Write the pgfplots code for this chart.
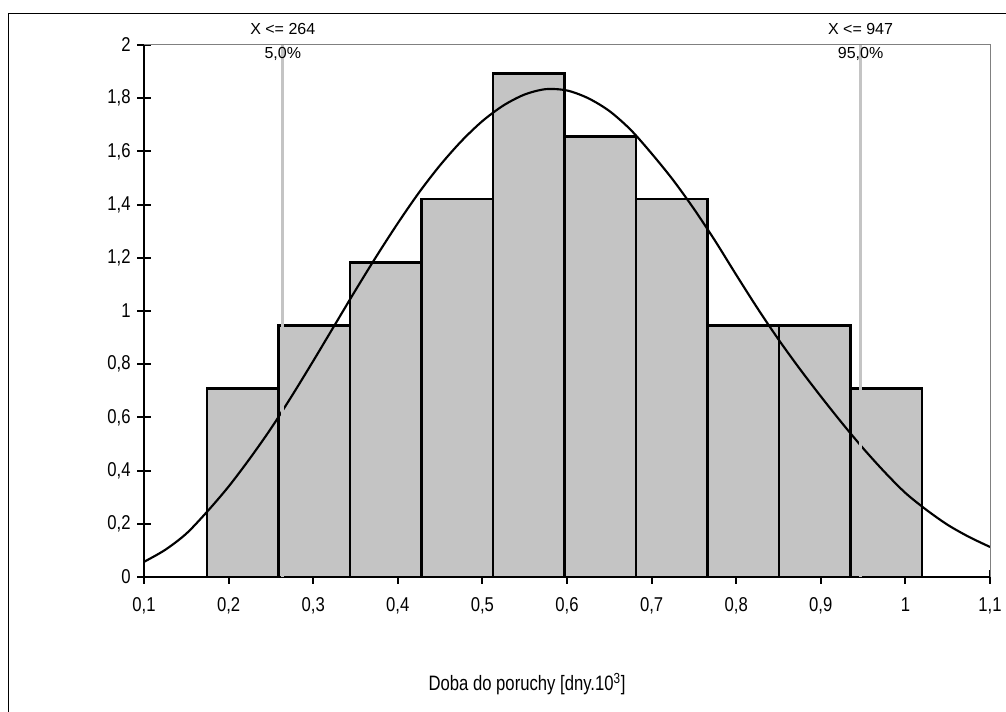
\documentclass[border=0pt]{standalone}
\usepackage{fontspec}
\setmainfont{Liberation Sans}
\usepackage{graphicx}
\usepackage{pgfplots}
\pgfplotsset{compat=1.18}
\definecolor{barfill}{HTML}{C4C4C4}
\definecolor{plotframe}{HTML}{808080}
\definecolor{pctline}{HTML}{C4C4C4}

\begin{document}
\begin{tikzpicture}
\useasboundingbox (0,0) rectangle (754.5pt,-534pt);
\draw[black, line width=0.75pt] (6pt,-10.5pt) rectangle (770pt,-550pt);
\begin{axis}[
  scale only axis, width=634.5pt, height=399pt,
  at={(108pt,-432.75pt)}, anchor=south west,
  xmin=0.1, xmax=1.1, ymin=0, ymax=2,
  xtick={0.1,0.2,0.3,0.4,0.5,0.6,0.7,0.8,0.9,1,1.1},
  ytick={0,0.2,0.4,0.6,0.8,1,1.2,1.4,1.6,1.8,2},
  axis lines*=left,
  axis line style={line width=2pt},
  tick style={black, line width=1.5pt},
  tick align=center, major tick length=10pt,
  /pgf/number format/.cd, use comma, fixed, precision=1, 1000 sep={}, assume math mode=true,
  /pgfplots/.cd,
  ticklabel style={font=\fontsize{12.5}{14}\selectfont},
  xticklabel={\scalebox{1}[1.2]{\pgfmathprintnumber{\tick}}},
  yticklabel={\scalebox{1}[1.2]{\pgfmathprintnumber{\tick}}},
  xticklabel style={yshift=-7pt},
  yticklabel style={xshift=-1.5pt},
  clip=false,
]
\addplot[ybar interval, fill=barfill, draw=black, line width=1.8pt] coordinates {
  (0.1745,0.709)(0.259,0.946)(0.3435,1.183)(0.428,1.420)(0.5125,1.893)
  (0.597,1.656)(0.6815,1.420)(0.766,0.946)(0.8505,0.946)(0.935,0.709)(1.0195,0.709)};
\addplot[black, line width=1.6pt, smooth, mark=none] coordinates {
  (0.100,0.057)(0.125,0.102)(0.150,0.163)(0.175,0.247)(0.200,0.340)(0.225,0.445)
  (0.250,0.558)(0.275,0.682)(0.300,0.812)(0.325,0.945)(0.350,1.078)(0.375,1.207)
  (0.400,1.330)(0.425,1.445)(0.450,1.548)(0.475,1.638)(0.500,1.714)(0.525,1.773)
  (0.550,1.814)(0.575,1.834)(0.600,1.829)(0.625,1.800)(0.650,1.752)(0.675,1.682)
  (0.700,1.592)(0.725,1.494)(0.750,1.384)(0.775,1.264)(0.800,1.136)(0.825,1.011)
  (0.850,0.893)(0.875,0.783)(0.900,0.679)(0.925,0.579)(0.950,0.484)(0.975,0.396)
  (1.000,0.316)(1.025,0.252)(1.050,0.196)(1.075,0.151)(1.100,0.113)};
\addplot[pctline, line width=2pt, mark=none] coordinates {(0.264,0)(0.264,2)};
\addplot[pctline, line width=2pt, mark=none] coordinates {(0.947,0)(0.947,2)};
\draw[plotframe, line width=0.75pt] (rel axis cs:0,1) -- (rel axis cs:1,1) -- (rel axis cs:1,0);
\node[font=\fontsize{12}{14}\selectfont] at (axis cs:0.264,2.06) {X <= 264};
\node[font=\fontsize{12}{14}\selectfont] at (axis cs:0.264,1.968) {5,0\%};
\node[font=\fontsize{12}{14}\selectfont] at (axis cs:0.947,2.06) {X <= 947};
\node[font=\fontsize{12}{14}\selectfont] at (axis cs:0.947,1.968) {95,0\%};
\end{axis}
\node[font=\fontsize{12.5}{15}\selectfont] at (395.25pt,-513pt)
  {\scalebox{1}[1.25]{Doba do poruchy [dny.10\textsuperscript{3}]}};
\end{tikzpicture}
\end{document}
